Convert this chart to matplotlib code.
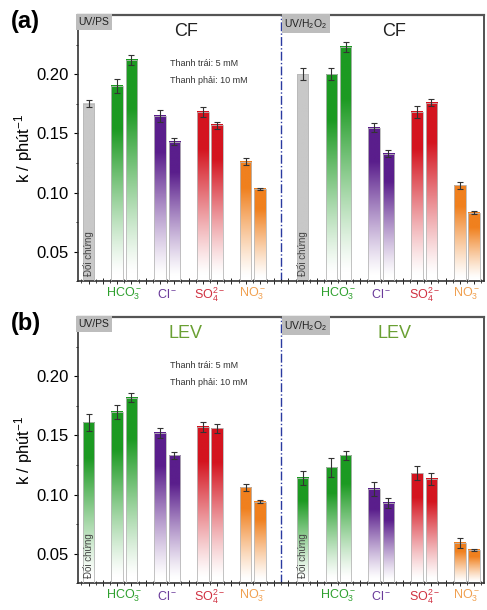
import numpy as np
import matplotlib.pyplot as plt
from matplotlib.colors import to_rgb
from matplotlib.patches import Rectangle

plt.rcParams['font.family'] = ['Liberation Sans', 'DejaVu Sans']
plt.rcParams['mathtext.fontset'] = 'custom'
plt.rcParams['mathtext.rm'] = 'Liberation Sans'
plt.rcParams['mathtext.it'] = 'Liberation Sans:italic'

# data: control, HCO3 (5, 10 mM), Cl, SO4, NO3
anions = ['HCO$_3^-$', 'Cl$^-$', 'SO$_4^{2-}$', 'NO$_3^-$']

cf_ps = [0.175, 0.190, 0.212, 0.165, 0.143, 0.168, 0.157, 0.126, 0.103]
cf_ps_err = [0.003, 0.006, 0.004, 0.005, 0.003, 0.004, 0.003, 0.003, 0.001]
cf_h2o2 = [0.200, 0.200, 0.223, 0.155, 0.133, 0.168, 0.176, 0.106, 0.083]
cf_h2o2_err = [0.005, 0.005, 0.004, 0.004, 0.003, 0.005, 0.003, 0.003, 0.001]

lev_ps = [0.161, 0.170, 0.182, 0.152, 0.133, 0.157, 0.156, 0.106, 0.094]
lev_ps_err = [0.007, 0.006, 0.004, 0.004, 0.003, 0.004, 0.004, 0.003, 0.001]
lev_h2o2 = [0.114, 0.123, 0.133, 0.105, 0.093, 0.118, 0.113, 0.059, 0.053]
lev_h2o2_err = [0.006, 0.008, 0.004, 0.006, 0.004, 0.006, 0.005, 0.004, 0.001]

colors = ['#1c9a22', '#5a1e8c', '#d4141f', '#f0801e']
label_colors = ['#2ea02e', '#6a3a9a', '#d03040', '#f0a050']

pos = [1, 3, 4, 6, 7, 9, 10, 12, 13]
YMIN, YMAX = 0.025, 0.25


def grad_bar(ax, x, h, color, w=0.8, fade=True):
    rgb = np.array(to_rgb(color))
    n = 200
    t = np.linspace(0, 1, n)  # 0 bottom, 1 top
    if fade:
        a = np.clip(t * 1.35 - 0.05, 0, 1) ** 1.2
    else:
        a = np.ones(n)
    img = np.ones((n, 1, 3)) * (1 - a[:, None, None]) + rgb * a[:, None, None]
    ax.imshow(img, extent=[x - w / 2, x + w / 2, YMIN, h], origin='lower',
              aspect='auto', zorder=2, interpolation='bilinear')
    ax.add_patch(Rectangle((x - w / 2, YMIN), w, h - YMIN, fill=False,
                           ec='#b8b8b8', lw=0.6, zorder=3))


def panel(ax, left, left_err, right, right_err, name, name_color, ctrl_color, tag):
    for off, vals, errs in [(0, left, left_err), (15, right, right_err)]:
        xs = [p + off for p in pos]
        cols = [ctrl_color] + [c for c in colors for _ in range(2)]
        for i, (x, v) in enumerate(zip(xs, vals)):
            if i == 0 and ctrl_color == '#c8c8c8':
                grad_bar(ax, x, v, ctrl_color, fade=False)
            else:
                grad_bar(ax, x, v, cols[i])
        ax.errorbar(xs, vals, yerr=errs, fmt='none', ecolor='#333333',
                    elinewidth=0.8, capsize=2, capthick=0.8, zorder=4)
        ax.text(xs[0], YMIN + 0.004, 'Đối chứng', rotation=90, fontsize=7,
                color='#444444', ha='center', va='bottom', zorder=5)
        for j, lab in enumerate(anions):
            ax.text(off + 3.5 + 3 * j, YMIN - 0.011, lab, color=label_colors[j],
                    fontsize=9, ha='center', va='center')

    ax.axvline(14.5, color='#2a3aa0', ls='-.', lw=1.0, zorder=1)

    ax.text(0.3, YMAX - 0.0015, 'UV/PS', fontsize=7.5, color='#222222', va='top',
            bbox=dict(boxstyle='square,pad=0.25', fc='#bdbdbd', ec='none'))
    ax.text(14.7, YMAX - 0.0015, 'UV/H$_2$O$_2$', fontsize=7.5, color='#222222',
            va='top', bbox=dict(boxstyle='square,pad=0.25', fc='#bdbdbd', ec='none'))
    ax.text(7.8, 0.236, name, fontsize=13, color=name_color, ha='center', va='center')
    ax.text(22.4, 0.236, name, fontsize=13, color=name_color, ha='center', va='center')
    ax.text(6.7, 0.209, 'Thanh trái: 5 mM', fontsize=6.5, color='#333333', va='center')
    ax.text(6.7, 0.195, 'Thanh phải: 10 mM', fontsize=6.5, color='#333333', va='center')

    ax.set_xlim(0.25, 28.7)
    ax.set_ylim(YMIN, YMAX)
    ax.set_yticks([0.05, 0.10, 0.15, 0.20])
    ax.set_yticklabels(['0.05', '0.10', '0.15', '0.20'])
    ax.set_yticks(np.arange(0.025, 0.25, 0.025), minor=True)
    ax.set_xticks(np.arange(1, 29, 1))
    ax.set_xticks(np.arange(0.5, 29, 0.5), minor=True)
    ax.set_xticklabels([])
    ax.tick_params(axis='y', labelsize=12, direction='out', length=3, width=0.8)
    ax.tick_params(axis='y', which='minor', length=1.5)
    ax.tick_params(axis='x', direction='inout', length=4, width=0.6)
    ax.tick_params(axis='x', which='minor', direction='inout', length=2.5, width=0.5)
    ax.set_ylabel('k / phút$^{-1}$', fontsize=12, labelpad=1)
    for s in ax.spines.values():
        s.set_color('#333333')
        s.set_linewidth(1.2)
    ax.spines['top'].set_color('#555555')
    ax.spines['top'].set_linewidth(1.6)
    ax.text(-0.165, 1.02, tag, transform=ax.transAxes, fontsize=17,
            fontweight='bold', va='top')


fig = plt.figure(figsize=(4.87, 6.10), dpi=100)
ax1 = fig.add_axes([0.160, 0.539, 0.834, 0.436])
ax2 = fig.add_axes([0.160, 0.044, 0.834, 0.436])

panel(ax1, cf_ps, cf_ps_err, cf_h2o2, cf_h2o2_err, 'CF', '#222222', '#c8c8c8', '(a)')
panel(ax2, lev_ps, lev_ps_err, lev_h2o2, lev_h2o2_err, 'LEV', '#6aa033', colors[0], '(b)')

fig.savefig('out.png', dpi=100)
